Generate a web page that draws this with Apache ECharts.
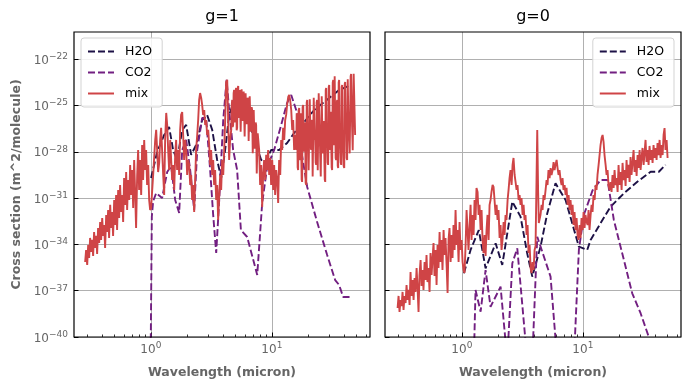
<!DOCTYPE html>
<html><head><meta charset="utf-8">
<script src="https://cdn.jsdelivr.net/npm/echarts@6/dist/echarts.min.js"></script>
<style>html,body{margin:0;padding:0;background:#fff}#c{width:689px;height:390px}</style>
</head><body><div id="c"></div>
<script>
// Readings off the log-log axes: [log10 wavelength (micron), log10 cross section (m^2/molecule)]
const panelTitles = ['g=1', 'g=0'];
const seriesNames = ['H2O', 'CO2', 'mix'];
const xMajorTicks = [1, 10];
const xMinorTicks = [0.3,0.4,0.5,0.6,0.7,0.8,0.9,2,3,4,5,6,7,8,9,20,30,40,50,60];
const yMajorTicks = [1e-40,1e-37,1e-34,1e-31,1e-28,1e-25,1e-22];

const g1H2O = [[0.002,-29.70],[0.052,-28.01],[0.110,-26.91],[0.151,-26.39],[0.184,-27.88],[0.217,-28.53],[0.259,-26.58],[0.292,-26.26],[0.333,-28.20],[0.374,-27.56],[0.424,-25.94],[0.465,-25.61],[0.507,-26.58],[0.548,-28.53],[0.581,-29.70],[0.614,-27.88],[0.647,-25.61],[0.697,-24.51],[0.746,-24.64],[0.796,-25.61],[0.854,-27.23],[0.912,-28.53],[0.945,-28.66],[0.994,-27.88],[1.060,-27.88],[1.126,-27.43],[1.184,-26.78],[1.267,-26.07],[1.350,-25.29],[1.474,-24.51],[1.556,-23.99],[1.655,-23.67]];

const g1CO2 = [[-0.002,-41.5],[0.008,-32.2],[0.019,-31.2],[0.044,-30.67],[0.093,-30.99],[0.135,-29.31],[0.168,-28.92],[0.201,-31.12],[0.234,-31.96],[0.259,-27.88],[0.292,-27.23],[0.325,-29.18],[0.358,-31.77],[0.383,-27.88],[0.424,-25.81],[0.457,-25.81],[0.490,-29.18],[0.515,-32.09],[0.540,-34.56],[0.565,-31.12],[0.598,-25.94],[0.626,-23.34],[0.647,-25.29],[0.680,-27.88],[0.713,-29.18],[0.744,-33.07],[0.796,-33.52],[0.879,-35.98],[0.920,-31.32],[0.961,-28.98],[1.019,-27.88],[1.077,-26.26],[1.126,-24.83],[1.160,-24.32],[1.209,-25.48],[1.242,-27.88],[1.292,-30.28],[1.374,-32.55],[1.457,-34.69],[1.523,-36.31],[1.556,-36.63],[1.589,-37.41],[1.664,-37.41]];

const g1Mix = [[-0.543,-35.14],[-0.535,-34.36],[-0.526,-35.33],[-0.518,-34.04],[-0.510,-34.88],[-0.502,-33.58],[-0.493,-34.49],[-0.485,-33.71],[-0.477,-34.75],[-0.469,-33.20],[-0.460,-34.23],[-0.452,-33.45],[-0.444,-34.62],[-0.436,-32.94],[-0.427,-33.91],[-0.419,-32.55],[-0.411,-33.71],[-0.402,-32.29],[-0.394,-33.45],[-0.386,-32.74],[-0.378,-34.23],[-0.369,-32.09],[-0.361,-33.20],[-0.353,-31.77],[-0.345,-33.58],[-0.336,-31.44],[-0.328,-32.94],[-0.320,-31.90],[-0.312,-33.45],[-0.303,-31.12],[-0.295,-32.74],[-0.287,-30.80],[-0.279,-33.07],[-0.270,-30.47],[-0.262,-32.29],[-0.254,-30.15],[-0.246,-31.90],[-0.237,-30.80],[-0.229,-32.55],[-0.221,-29.70],[-0.212,-31.44],[-0.204,-29.31],[-0.196,-31.77],[-0.188,-29.83],[-0.179,-31.12],[-0.171,-28.85],[-0.163,-30.80],[-0.155,-29.18],[-0.146,-31.64],[-0.138,-28.53],[-0.130,-30.60],[-0.122,-32.94],[-0.113,-29.50],[-0.105,-27.88],[-0.097,-30.47],[-0.088,-28.53],[-0.080,-30.80],[-0.072,-27.56],[-0.064,-29.83],[-0.055,-27.23],[-0.047,-29.18],[-0.039,-27.88],[-0.031,-30.15],[-0.022,-28.85],[-0.014,-31.12],[-0.006,-31.77],
[0.002,-31.64],[0.019,-29.50],[0.036,-27.23],[0.044,-26.58],[0.052,-27.88],[0.060,-29.31],[0.069,-28.72],[0.077,-27.23],[0.085,-26.45],[0.093,-27.88],[0.102,-29.50],[0.110,-30.80],[0.118,-27.23],[0.127,-25.48],[0.135,-26.26],[0.143,-27.88],[0.151,-29.18],[0.160,-27.23],[0.168,-28.53],[0.176,-29.83],[0.184,-28.85],[0.193,-30.47],[0.201,-28.20],[0.209,-27.23],[0.217,-29.18],[0.226,-27.88],[0.234,-29.50],[0.242,-26.58],[0.250,-25.61],[0.259,-25.42],[0.267,-26.91],[0.275,-28.53],[0.283,-27.23],[0.292,-27.88],[0.300,-29.50],[0.308,-28.53],[0.317,-28.85],[0.325,-30.15],[0.333,-29.50],[0.341,-31.12],[0.350,-30.15],[0.358,-31.90],[0.366,-29.83],[0.374,-27.88],[0.383,-26.91],[0.391,-25.94],[0.399,-24.64],[0.407,-24.19],[0.416,-24.51],[0.424,-24.96],[0.432,-25.61],[0.441,-25.29],[0.449,-26.26],[0.457,-25.94],[0.465,-26.91],[0.474,-26.58],[0.482,-27.56],[0.490,-28.85],[0.498,-27.88],[0.507,-29.50],[0.515,-28.53],[0.523,-30.15],[0.531,-29.18],[0.540,-31.12],[0.548,-30.15],[0.556,-32.42],[0.565,-30.80],[0.573,-29.50],[0.581,-30.47],[0.589,-28.53],[0.598,-29.50],[0.606,-27.88],[0.614,-25.94],[0.622,-23.47],[0.631,-23.34],[0.639,-25.94],[0.647,-28.53],[0.655,-27.23],
[0.664,-26.58],[0.668,-25.00],[0.672,-24.64],[0.676,-26.40],[0.680,-26.26],[0.684,-24.20],[0.688,-23.99],[0.692,-26.10],[0.697,-25.81],[0.701,-24.00],[0.705,-23.86],[0.709,-26.60],[0.713,-26.45],[0.717,-23.90],[0.722,-23.73],[0.726,-25.80],[0.730,-25.61],[0.734,-24.00],[0.738,-24.12],[0.742,-26.70],[0.746,-26.58],[0.750,-23.95],[0.755,-23.86],[0.759,-26.00],[0.763,-25.94],[0.767,-24.10],[0.771,-23.99],[0.775,-27.00],[0.779,-26.91],[0.783,-24.20],[0.788,-24.32],[0.792,-26.20],[0.796,-26.07],[0.800,-24.50],[0.804,-24.64],[0.808,-27.30],[0.812,-27.23],[0.817,-24.40],[0.821,-24.51],[0.825,-26.70],[0.829,-26.58],[0.833,-25.10],[0.837,-25.29],[0.842,-28.10],[0.846,-28.20],[0.850,-25.30],[0.854,-25.42],[0.858,-27.80],[0.862,-27.88],[0.866,-26.10],[0.870,-26.26],[0.875,-29.40],[0.879,-29.50],[0.883,-26.80],[0.887,-26.91],
[0.895,-27.88],[0.903,-30.15],[0.912,-28.85],[0.920,-31.57],[0.928,-29.50],[0.936,-28.53],[0.945,-29.83],[0.953,-28.20],[0.961,-29.18],[0.969,-27.88],[0.978,-29.50],[0.986,-28.40],[0.994,-30.15],[1.003,-28.53],[1.011,-30.47],[1.019,-28.85],[1.027,-30.80],[1.036,-29.18],[1.044,-29.83],[1.052,-31.32],[1.060,-28.53],[1.069,-29.50],[1.077,-27.23],[1.085,-27.88],[1.093,-26.45],[1.102,-27.23],[1.110,-25.94],[1.118,-25.61],[1.126,-24.96],[1.135,-24.45],[1.143,-24.32],[1.151,-24.64],[1.160,-25.29],[1.168,-26.58],[1.176,-25.94],[1.184,-27.88],[1.193,-26.91],
[1.201,-27.88],[1.205,-25.50],[1.209,-25.94],[1.213,-29.00],[1.217,-29.18],[1.221,-25.30],[1.226,-25.16],[1.230,-28.40],[1.234,-28.53],[1.238,-25.50],[1.242,-25.61],[1.246,-29.80],[1.250,-29.95],[1.254,-25.10],[1.259,-24.96],[1.263,-28.00],[1.267,-27.88],[1.271,-26.10],[1.275,-26.26],[1.279,-30.00],[1.284,-30.15],[1.288,-24.80],[1.292,-24.64],[1.296,-27.40],[1.300,-27.23],[1.304,-29.20],[1.308,-29.31],[1.313,-24.60],[1.317,-24.51],[1.321,-27.70],[1.325,-27.88],[1.329,-26.10],[1.333,-25.94],[1.337,-29.60],[1.341,-29.70],[1.346,-24.50],[1.350,-24.38],[1.354,-27.10],[1.358,-27.23],[1.362,-28.70],[1.366,-28.85],[1.370,-24.80],[1.374,-24.64],[1.379,-29.20],[1.383,-29.31],[1.387,-24.20],[1.391,-24.12],[1.395,-26.80],[1.399,-26.91],[1.404,-29.60],[1.408,-29.70],[1.412,-24.40],[1.416,-24.32],[1.420,-28.10],[1.424,-28.20],[1.428,-26.00],[1.432,-25.94],[1.437,-29.80],[1.441,-29.95],[1.445,-24.00],[1.449,-23.86],[1.453,-27.10],[1.457,-27.23],[1.461,-28.70],[1.465,-28.85],[1.470,-23.80],[1.474,-23.67],[1.478,-27.70],[1.482,-27.88],[1.486,-25.40],[1.490,-25.29],[1.494,-29.00],[1.498,-29.18],[1.503,-23.50],[1.507,-23.34],[1.511,-27.40],[1.515,-27.56],[1.519,-23.10],[1.523,-23.02],[1.527,-28.40],[1.531,-28.53],[1.536,-24.80],[1.540,-24.64],[1.544,-28.90],[1.548,-29.05],[1.552,-23.50],[1.556,-23.34],[1.560,-26.70],[1.564,-26.58],[1.569,-28.70],[1.573,-28.85],[1.577,-23.80],[1.581,-23.67],[1.585,-27.70],[1.589,-27.88],[1.593,-28.90],[1.598,-29.05],[1.602,-23.60],[1.606,-23.47],[1.610,-26.10],[1.614,-25.94],[1.618,-28.40],[1.622,-28.53],[1.627,-23.30],[1.631,-23.21],[1.635,-27.10],[1.639,-27.23],[1.643,-28.10],[1.647,-28.20],[1.651,-23.10],[1.655,-22.96],[1.660,-25.40],[1.664,-25.29],[1.668,-27.90],[1.672,-28.01],[1.676,-22.95],[1.680,-22.83],[1.688,-26.91]];

const g0H2O = [[0.017,-35.87],[0.072,-34.36],[0.140,-33.07],[0.196,-35.55],[0.279,-33.93],[0.334,-35.33],[0.417,-31.23],[0.485,-32.20],[0.540,-34.58],[0.582,-36.09],[0.650,-34.15],[0.706,-31.98],[0.774,-30.04],[0.857,-31.12],[0.912,-32.63],[0.967,-34.15],[1.036,-34.36],[1.064,-33.71],[1.146,-32.63],[1.229,-31.56],[1.339,-30.69],[1.450,-29.94],[1.560,-29.29],[1.628,-29.29],[1.683,-28.85]];

const g0CO2 = [[0.099,-41.5],[0.113,-36.95],[0.155,-38.36],[0.196,-35.66],[0.237,-38.04],[0.320,-36.74],[0.375,-41.5],[0.417,-35.22],[0.458,-34.25],[0.540,-41.5],[0.582,-41.5],[0.623,-33.50],[0.733,-36.09],[0.788,-41.5],[0.926,-41.5],[0.967,-34.36],[1.008,-32.09],[1.080,-30.5],[1.146,-29.83],[1.204,-29.83],[1.256,-32.42],[1.339,-35.01],[1.408,-37.17],[1.477,-38.46],[1.545,-40.0],[1.601,-41.5]];

const g0Mix = [[-0.531,-38.12],[-0.523,-37.34],[-0.515,-38.38],[-0.507,-37.60],[-0.498,-37.99],[-0.490,-37.08],[-0.482,-38.25],[-0.474,-37.34],[-0.465,-37.80],[-0.457,-36.63],[-0.449,-37.60],[-0.440,-36.95],[-0.432,-37.93],[-0.424,-35.79],[-0.416,-37.34],[-0.407,-36.31],[-0.399,-37.60],[-0.391,-36.18],[-0.383,-37.08],[-0.374,-35.53],[-0.366,-36.82],[-0.358,-38.38],[-0.350,-35.98],[-0.341,-35.01],[-0.333,-36.69],[-0.325,-35.66],[-0.317,-36.95],[-0.308,-35.14],[-0.300,-36.31],[-0.292,-34.69],[-0.284,-36.44],[-0.275,-35.53],[-0.267,-37.08],[-0.259,-34.56],[-0.250,-35.98],[-0.242,-34.88],[-0.234,-33.91],[-0.226,-36.05],[-0.217,-34.36],[-0.209,-36.63],[-0.201,-34.04],[-0.193,-35.53],[-0.184,-33.20],[-0.176,-35.14],[-0.168,-33.71],[-0.160,-35.66],[-0.151,-33.07],[-0.143,-34.69],[-0.135,-33.58],[-0.126,-35.33],[-0.118,-37.15],[-0.110,-33.71],[-0.102,-32.94],[-0.093,-35.14],[-0.085,-33.39],[-0.077,-34.88],[-0.069,-32.74],[-0.060,-34.36],[-0.052,-31.77],[-0.044,-34.04],[-0.036,-33.07],[-0.027,-35.14],[-0.019,-32.55],[-0.011,-34.36],[-0.002,-33.71],[0.006,-35.14],[0.014,-35.66],[0.022,-35.85],
[0.031,-34.04],[0.039,-31.77],[0.047,-33.07],[0.055,-34.36],[0.064,-32.74],[0.072,-31.44],[0.080,-33.71],[0.088,-32.09],[0.097,-33.39],[0.105,-31.12],[0.113,-32.42],[0.121,-30.34],[0.130,-30.60],[0.138,-32.09],[0.146,-31.44],[0.155,-33.07],[0.163,-31.77],[0.171,-33.71],[0.179,-34.56],[0.188,-33.39],[0.196,-34.75],[0.204,-33.07],[0.212,-32.09],[0.221,-33.71],[0.229,-31.44],[0.237,-31.12],[0.245,-30.60],[0.254,-30.15],[0.262,-30.28],[0.270,-31.12],[0.279,-32.09],[0.287,-31.44],[0.295,-32.42],[0.303,-31.77],[0.312,-33.58],[0.320,-32.74],[0.328,-34.36],[0.336,-33.71],[0.345,-32.55],[0.353,-33.39],[0.361,-32.09],[0.369,-32.42],[0.378,-31.12],[0.386,-30.47],[0.394,-29.70],[0.402,-29.18],[0.411,-30.15],[0.419,-28.85],[0.427,-28.40],[0.436,-29.50],[0.444,-29.96],[0.452,-30.47],[0.460,-30.15],[0.469,-31.12],[0.477,-30.80],[0.485,-31.44],[0.493,-30.99],[0.502,-32.09],[0.510,-31.44],[0.518,-32.42],[0.526,-32.09],[0.535,-33.39],[0.543,-32.74],[0.551,-34.56],[0.560,-34.04],[0.568,-35.53],[0.576,-35.85],[0.584,-35.14],[0.593,-35.66],[0.601,-34.36],[0.609,-34.10],[0.617,-29.83],[0.623,-26.59],[0.630,-30.47],[0.636,-32.61],[0.650,-32.09],[0.659,-31.44],[0.667,-31.77],[0.675,-30.80],[0.683,-31.12],[0.692,-30.47],[0.700,-29.83],[0.708,-30.15],[0.716,-29.18],[0.725,-29.70],[0.733,-29.05],[0.741,-29.50],[0.750,-29.18],[0.758,-28.66],[0.766,-29.18],[0.774,-28.85],[0.783,-28.53],[0.791,-29.05],[0.799,-29.50],[0.807,-29.18],[0.816,-29.83],[0.824,-30.15],[0.832,-29.70],[0.840,-30.47],[0.849,-30.15],[0.857,-30.80],[0.865,-30.34],[0.874,-31.44],[0.882,-30.80],[0.890,-31.77],[0.898,-31.12],[0.907,-32.09],[0.915,-31.44],[0.923,-32.74],[0.931,-31.90],[0.940,-33.07],[0.948,-32.29],[0.956,-33.39],[0.964,-33.71],[0.973,-32.74],[0.981,-33.58],[0.989,-32.29],[0.998,-33.07],[1.006,-31.90],[1.014,-32.94],[1.022,-32.09],[1.031,-32.55],[1.039,-32.74],[1.047,-31.77],[1.055,-33.07],[1.064,-32.09],[1.072,-31.44],[1.080,-31.90],[1.088,-30.80],[1.097,-31.12],[1.105,-30.15],[1.113,-30.47],[1.121,-29.50],[1.130,-28.85],[1.138,-28.21],[1.146,-27.56],[1.155,-27.10],[1.163,-26.91],[1.171,-27.36],[1.179,-28.21],[1.188,-28.85],[1.196,-29.50],[1.204,-29.18],[1.212,-30.15],[1.221,-30.47],
[1.229,-29.96],[1.237,-30.60],[1.245,-29.50],[1.254,-30.34],[1.262,-29.18],[1.270,-30.15],[1.279,-29.70],[1.287,-30.60],[1.295,-28.85],[1.303,-30.15],[1.312,-29.31],[1.320,-30.47],[1.328,-28.72],[1.336,-29.83],[1.345,-29.18],[1.353,-30.21],[1.361,-28.53],[1.369,-29.70],[1.378,-28.85],[1.386,-29.96],[1.394,-28.34],[1.402,-29.50],[1.411,-28.66],[1.419,-27.88],[1.427,-29.31],[1.436,-28.53],[1.444,-29.57],[1.452,-28.21],[1.460,-29.05],[1.469,-27.88],[1.477,-29.18],[1.485,-28.40],[1.493,-27.75],[1.502,-28.85],[1.510,-28.01],[1.518,-27.23],[1.526,-28.66],[1.535,-27.88],[1.543,-28.85],[1.551,-27.62],[1.560,-28.53],[1.568,-27.88],[1.576,-28.72],[1.584,-27.56],[1.593,-28.40],[1.601,-27.75],[1.609,-28.53],[1.617,-27.43],[1.626,-28.21],[1.634,-27.23],[1.642,-28.40],[1.650,-27.56],[1.659,-28.21],[1.667,-26.91],[1.675,-26.46],[1.683,-27.88],[1.692,-27.23],[1.700,-28.40]];

const panelData = [[g1H2O, g1CO2, g1Mix], [g0H2O, g0CO2, g0Mix]];
const seriesColors = ['#1d1146', '#721f81', '#cf4446'];
const seriesDashed = [true, true, false];

const FONT = 'DejaVu Sans';
const GRID_W = 296, GRID_H = 305, GRID_TOP = 32;
const gridLefts = [74, 385];
const X_MIN = 0.2317, X_MAX = 64.7, Y_MIN = 1e-40, Y_MAX = 5.8e-21;

function expLabel(v) {
  const e = Math.round(Math.log10(v));
  return '{b|10}{s|' + (e < 0 ? '\u2212' + (-e) : String(e)) + '}';
}
const labelRich = {
  b: { fontSize: 12, fontFamily: FONT, color: '#666', lineHeight: 14, padding: [3, 0, 0, 0] },
  s: { fontSize: 9, fontFamily: FONT, color: '#666', lineHeight: 10, verticalAlign: 'top' }
};

const grid = [], xAxis = [], yAxis = [], series = [], title = [], legend = [], graphic = [];
for (let p = 0; p < 2; p++) {
  grid.push({ left: gridLefts[p], top: GRID_TOP, width: GRID_W, height: GRID_H, containLabel: false });
  xAxis.push({
    type: 'log', logBase: 10, gridIndex: p, min: X_MIN, max: X_MAX, position: 'bottom',
    name: 'Wavelength (micron)', nameLocation: 'middle', nameGap: 29,
    nameTextStyle: { fontFamily: FONT, fontWeight: 'bold', fontSize: 12.5, color: '#666' },
    axisLine: { show: false },
    axisTick: { show: true, inside: true, length: 4.5, customValues: xMajorTicks, lineStyle: { color: '#000', width: 1 } },
    axisLabel: { show: true, customValues: xMajorTicks, formatter: expLabel, rich: labelRich, margin: 4 },
    splitLine: { show: true, lineStyle: { color: '#b0b0b0', width: 1 } },
    minorTick: { show: false }
  });
  xAxis.push({
    type: 'log', logBase: 10, gridIndex: p, min: X_MIN, max: X_MAX, position: 'bottom', offset: 0,
    axisLine: { show: false },
    axisTick: { show: true, inside: true, length: 2.5, customValues: xMinorTicks, lineStyle: { color: '#000', width: 0.8 } },
    axisLabel: { show: false },
    splitLine: { show: false }
  });
  yAxis.push({
    type: 'log', logBase: 10, gridIndex: p, min: Y_MIN, max: Y_MAX, position: 'left',
    name: p === 0 ? 'Cross section (m^2/molecule)' : '', nameLocation: 'middle', nameGap: 51,
    nameTextStyle: { fontFamily: FONT, fontWeight: 'bold', fontSize: 12.5, color: '#666' },
    axisLine: { show: false },
    axisTick: { show: true, inside: true, length: 4.5, customValues: yMajorTicks, lineStyle: { color: '#000', width: 1 } },
    axisLabel: { show: p === 0, customValues: yMajorTicks, formatter: expLabel, rich: labelRich, margin: 6 },
    splitLine: { show: true, lineStyle: { color: '#b0b0b0', width: 1 } }
  });
  title.push({
    text: panelTitles[p], left: gridLefts[p] + GRID_W / 2, top: 9, textAlign: 'center', padding: 0,
    textStyle: { fontFamily: FONT, fontSize: 16, fontWeight: 'normal', color: '#000' }
  });
  const lg = {
    data: seriesNames, orient: 'vertical', top: 38, selectedMode: false,
    itemWidth: 26, itemHeight: 12, itemGap: 8, padding: [7, 10, 7, 6],
    itemStyle: { opacity: 0, borderWidth: 0 },
    borderColor: '#d3d3d3', borderWidth: 1, borderRadius: 3, backgroundColor: 'rgba(255,255,255,0.85)',
    textStyle: { fontFamily: FONT, fontSize: 12.5, color: '#000', padding: [0, 0, 0, 6] }
  };
  if (p === 0) lg.left = 81; else lg.right = 15;
  legend.push(lg);
  for (let s = 0; s < 3; s++) {
    series.push({
      type: 'line', name: seriesNames[s], xAxisIndex: p * 2, yAxisIndex: p,
      data: panelData[p][s].map(d => [Math.pow(10, d[0]), Math.pow(10, d[1])]),
      showSymbol: false, symbol: 'none', clip: true, silent: true, animation: false,
      lineStyle: { color: seriesColors[s], width: 1.9, type: seriesDashed[s] ? [7, 3] : 'solid' },
      itemStyle: { color: seriesColors[s] },
      emphasis: { disabled: true }, z: 2 + s
    });
  }
  graphic.push({
    type: 'rect', silent: true, z: 100,
    shape: { x: gridLefts[p], y: GRID_TOP, width: GRID_W, height: GRID_H },
    style: { fill: 'none', stroke: '#000', lineWidth: 1.2 }
  });
}

const chart = echarts.init(document.getElementById('c'), null, { renderer: 'canvas' });
chart.setOption({
  backgroundColor: '#fff', animation: false,
  textStyle: { fontFamily: FONT },
  title, legend, grid, xAxis, yAxis, series, graphic
});
</script></body></html>
